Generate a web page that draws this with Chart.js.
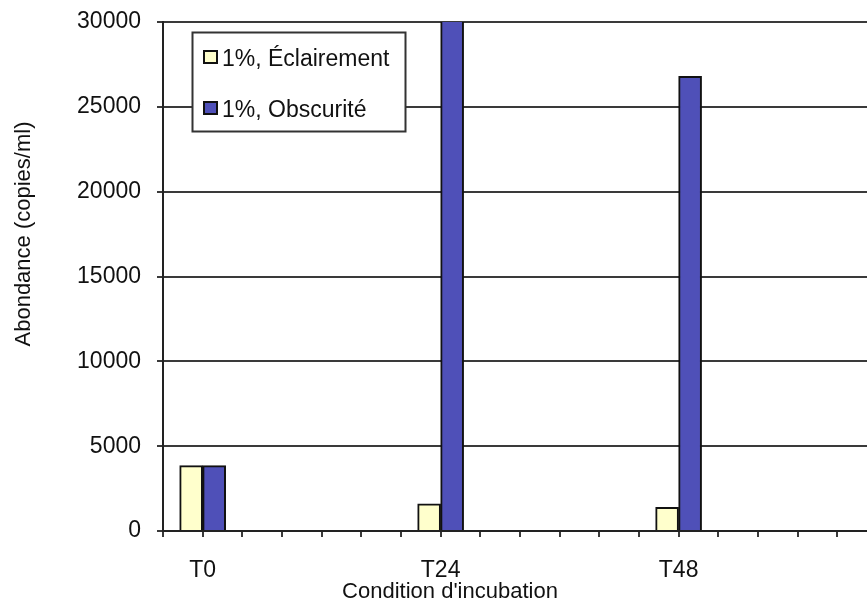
<!DOCTYPE html>
<html lang="fr">
<head>
<meta charset="utf-8">
<title>Abondance selon la condition d'incubation</title>
<script src="https://cdn.jsdelivr.net/npm/chart.js@4.4.1/dist/chart.umd.min.js"></script>
<style>
  html, body { margin: 0; padding: 0; background: #fff; overflow: hidden; }
  #wrap { position: relative; width: 867px; height: 606px; }
</style>
</head>
<body>
<div id="wrap"><canvas id="chart" width="867" height="606"></canvas></div>
<script>
// Sampling times (hours of incubation) and their labels
const categories = ['T0', 'T24', 'T48'];
const hours = [0, 24, 48];

// Abundance (copies/ml) per condition
const seriesLabels = ['1%, Éclairement', '1%, Obscurité'];
const eclairement = [3850, 1600, 1400];
const obscurite = [3850, 31000, 26800];

// Axis ticks
const xTickHours = [-4, 0, 4, 8, 12, 16, 20, 24, 28, 32, 36, 40, 44, 48, 52, 56, 60, 64];
const yMin = 0;
const yMax = 30000;
const yStep = 5000;

// Axis titles
const xTitle = "Condition d'incubation";
const yTitle = 'Abondance (copies/ml)';

const FONT = "'Liberation Sans', Arial, Helvetica, sans-serif";
const colors = ['#ffffcc', '#4f50b8'];
const lineColor = '#3a3a3a';

Chart.defaults.font.family = FONT;
Chart.defaults.color = '#111';

// Axis titles and the framed legend inside the plot
const decorations = {
  id: 'decorations',
  afterDraw(chart) {
    const ctx = chart.ctx;
    const area = chart.chartArea;
    ctx.save();
    ctx.fillStyle = '#111';
    ctx.font = '22px ' + FONT;
    ctx.textAlign = 'center';
    ctx.textBaseline = 'middle';
    ctx.fillText(xTitle, 450, 592);

    ctx.save();
    ctx.translate(24, 234);
    ctx.rotate(-Math.PI / 2);
    ctx.fillText(yTitle, 0, 0);
    ctx.restore();

    // legend box
    const bx = area.left + 29, by = 32, bw = 213, bh = 99;
    ctx.fillStyle = '#fff';
    ctx.fillRect(bx, by, bw, bh);
    ctx.strokeStyle = '#333';
    ctx.lineWidth = 2;
    ctx.strokeRect(bx + 0.5, by + 0.5, bw, bh);

    ctx.textAlign = 'left';
    ctx.textBaseline = 'alphabetic';
    chart.data.datasets.forEach((ds, i) => {
      const cy = 57 + i * 51;
      ctx.fillStyle = ds.backgroundColor;
      ctx.fillRect(204, cy - 6, 13, 12);
      ctx.strokeStyle = '#111';
      ctx.lineWidth = 2;
      ctx.strokeRect(204, cy - 6, 13, 12);
      ctx.fillStyle = '#111';
      ctx.font = '23px ' + FONT;
      ctx.fillText(ds.label, 222, cy + 9);
    });
    ctx.restore();
  }
};

const datasets = [eclairement, obscurite].map((vals, i) => ({
  label: seriesLabels[i],
  data: hours.map((h, j) => ({ x: h, y: vals[j] })),
  backgroundColor: colors[i],
  borderColor: '#111',
  borderWidth: 2,
  barThickness: 23,
  clip: 0
}));

new Chart(document.getElementById('chart'), {
  type: 'bar',
  data: { datasets },
  plugins: [decorations],
  options: {
    responsive: false,
    animation: false,
    layout: { padding: { top: 22, right: 0, left: 0, bottom: 0 } },
    plugins: {
      legend: { display: false },
      tooltip: { enabled: false }
    },
    scales: {
      x: {
        type: 'linear',
        offset: false,
        min: -4,
        max: 67,
        afterBuildTicks(scale) {
          scale.ticks = xTickHours.map(v => ({ value: v }));
        },
        afterFit(scale) {
          scale.height = 75;
          scale.paddingLeft = 0;
          scale.paddingRight = 0;
        },
        ticks: {
          autoSkip: false,
          maxRotation: 0,
          padding: 20,
          color: '#111',
          font: { size: 23 },
          callback(value) {
            const k = hours.indexOf(value);
            return k >= 0 ? categories[k] : '';
          }
        },
        grid: {
          offset: false,
          drawOnChartArea: false,
          drawTicks: true,
          tickLength: 6,
          color: lineColor,
          lineWidth: 2
        },
        border: { display: true, color: '#222', width: 2 }
      },
      y: {
        min: yMin,
        max: yMax,
        afterFit(scale) {
          scale.width = 163;
          scale.paddingTop = 0;
          scale.paddingBottom = 0;
        },
        ticks: {
          stepSize: yStep,
          padding: 16,
          color: '#111',
          font: { size: 23 },
          callback(value) { return String(value); }
        },
        grid: {
          color: lineColor,
          lineWidth: 2,
          tickLength: 6
        },
        border: { display: true, color: '#222', width: 2 }
      }
    }
  }
});
</script>
</body>
</html>
